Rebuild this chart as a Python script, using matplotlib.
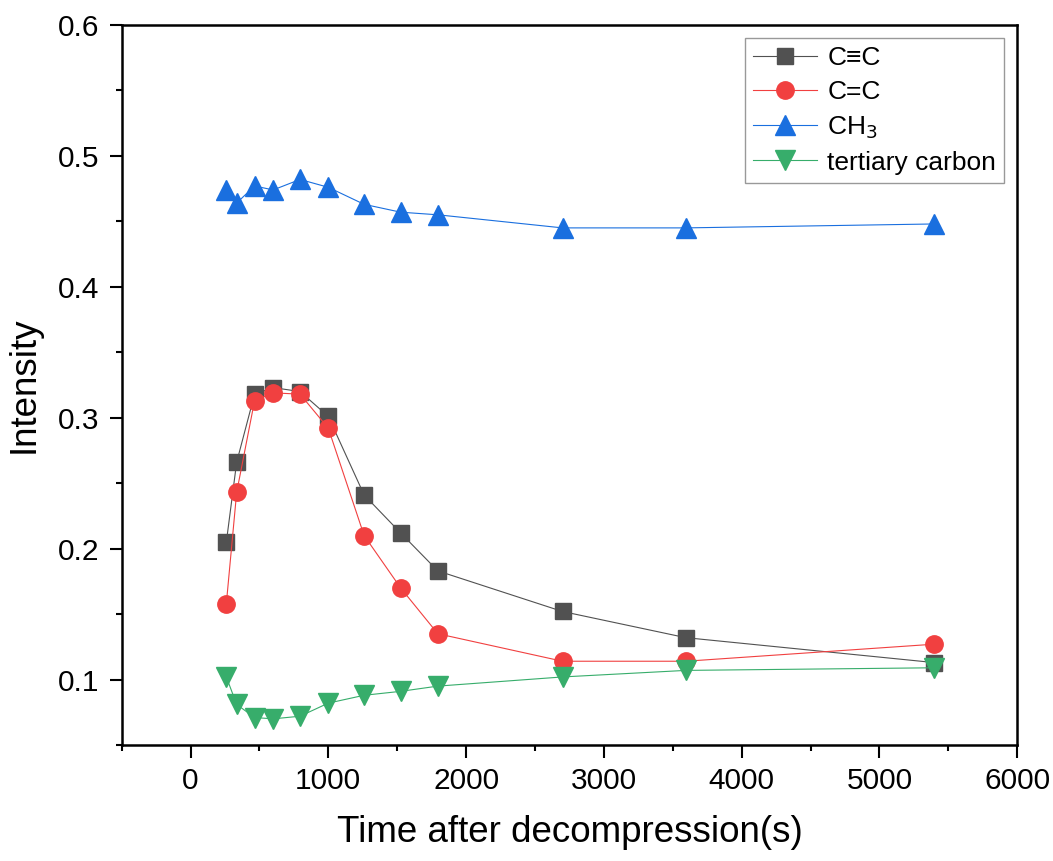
import matplotlib
matplotlib.use("Agg")
import matplotlib.pyplot as plt
from matplotlib.ticker import MultipleLocator

plt.rcParams['font.family'] = ['Liberation Sans', 'DejaVu Sans']

# time after decompression (s)
time_s = [260, 335, 465, 600, 795, 1000, 1260, 1525, 1795, 2700, 3595, 5395]

triple_cc = [0.205, 0.266, 0.318, 0.323, 0.320, 0.301, 0.241, 0.212, 0.183,
             0.152, 0.132, 0.113]
double_cc = [0.158, 0.243, 0.313, 0.319, 0.318, 0.292, 0.210, 0.170, 0.135,
             0.114, 0.114, 0.127]
ch3 = [0.474, 0.464, 0.477, 0.474, 0.482, 0.476, 0.463, 0.457, 0.455,
       0.445, 0.445, 0.448]
tertiary = [0.102, 0.081, 0.071, 0.070, 0.072, 0.082, 0.088, 0.091, 0.095,
            0.102, 0.107, 0.109]

fig = plt.figure(figsize=(10.53, 8.61), dpi=100)
ax = fig.add_axes([0.1155, 0.1347, 0.8505, 0.8363])

ax.plot(time_s, triple_cc, '-s', color='#515151', lw=0.8, ms=11, label='C≡C')
ax.plot(time_s, double_cc, '-o', color='#F14040', lw=0.8, ms=12.5, label='C=C')
ax.plot(time_s, ch3, '-^', color='#1A6FDF', lw=0.8, ms=14, label='CH$_3$')
ax.plot(time_s, tertiary, '-v', color='#37AD6B', lw=0.8, ms=14, label='tertiary carbon')

ax.set_xlim(-500, 6000)
ax.set_ylim(0.05, 0.6)
ax.xaxis.set_major_locator(MultipleLocator(1000))
ax.xaxis.set_minor_locator(MultipleLocator(500))
ax.yaxis.set_major_locator(MultipleLocator(0.1))
ax.yaxis.set_minor_locator(MultipleLocator(0.05))
ax.tick_params(which='major', direction='out', length=9, width=1.5,
               labelsize=21.5, pad=7)
ax.tick_params(which='minor', direction='out', length=4.5, width=1.5)
ax.tick_params(top=False, right=False, which='both')
for s in ax.spines.values():
    s.set_linewidth(1.8)

ax.set_xlabel('Time after decompression(s)', fontsize=26.5, labelpad=14)
ax.set_ylabel('Intensity', fontsize=26.5, labelpad=12)

leg = ax.legend(loc='upper right', fontsize=19, frameon=True, fancybox=False,
                edgecolor='#808080', borderaxespad=0.5, handlelength=2.4,
                handletextpad=0.4, labelspacing=0.38, borderpad=0.3)
leg.get_frame().set_linewidth(1.0)

fig.savefig('out.png', dpi=100)
